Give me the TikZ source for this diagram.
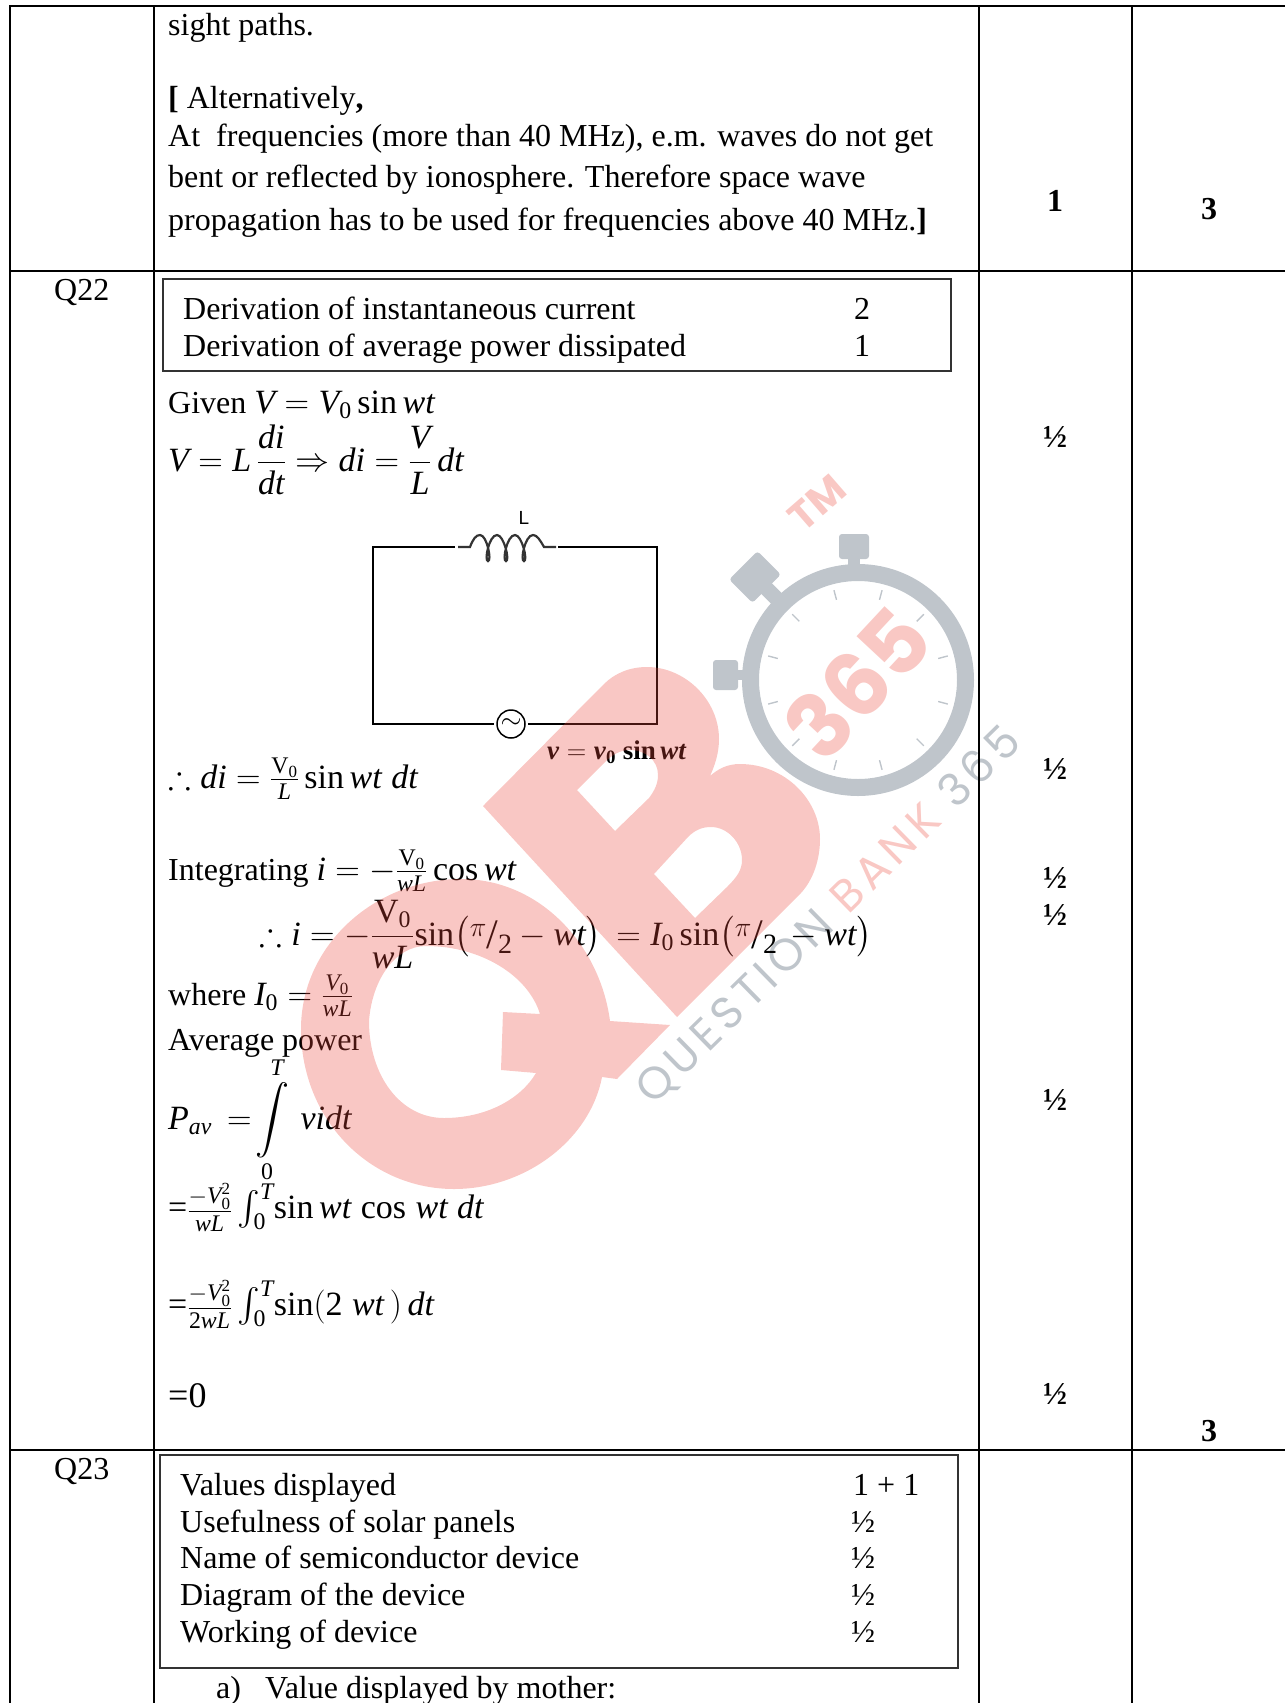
\documentclass[tikz,border=0pt]{standalone}
\usepackage{fix-cm}
\usepackage{amsmath,amssymb}
\usepackage{fontspec}
\setmainfont{Liberation Serif}
\newfontfamily\wmfont{Poppins}
\newfontfamily\wmtext[LetterSpace=12]{Poppins}
\newfontfamily\labelfont{Liberation Sans}
\usetikzlibrary{positioning}
\definecolor{wmgray}{HTML}{BFC5CB}
\definecolor{wmpink}{HTML}{F9C8C4}
\definecolor{wmred}{HTML}{EB473B}
\newcommand{\mv}[1]{\text{\itshape #1}}
\newcommand{\mr}[1]{\text{\upshape #1}}
\newcommand{\half}{½}
\newcommand{\mfs}{\fontsize{34}{38}\selectfont}
\newcommand{\pitwo}{\text{\fontsize{28}{28}\selectfont\raisebox{9pt}{$\pi$}\raisebox{-3pt}{\fontsize{42}{42}\selectfont/}\raisebox{-8pt}{2}}}

\begin{document}
\begin{tikzpicture}[
    x=1pt, y=-1pt,
    rule/.style={line width=2.2pt},
    markbox/.style={line width=1.8pt, draw=black!80},
    wire/.style={line width=1.5pt},
    txt/.style={anchor=base west, inner sep=0pt, font=\fontsize{32}{37}\selectfont},
    mth/.style={txt, font=\mfs},
    markval/.style={anchor=base, inner sep=0pt, font=\fontsize{32}{37}\selectfont\bfseries},
    wmfill/.style={fill=wmred, fill opacity=.3, even odd rule},
    dial/.style={wmgray}
]
    \useasboundingbox (0,0) rectangle (1285,1703);

    % watermark below the text
    \draw[dial, line width=17pt] (858,680) circle (107.5);
    \foreach \a in {15,45,...,345}
        \draw[dial, line width=1.4pt] (858,680) ++(\a:83) -- ++(\a:10);
    \fill[dial, rounded corners=3pt] (839,534) rectangle (869,559);
    \fill[dial] (848,559) rectangle (860,567);
    \fill[dial, rounded corners=3pt] (713,660) rectangle (738,690);
    \fill[dial] (738,670) rectangle (745,680);
    \draw[dial, line width=15pt] (755,577) -- (785,607);
    \node (knob) [dial, fill, rotate=-45, minimum width=33pt, minimum height=40pt, rounded corners=3pt, inner sep=0pt] at (755,577) {};
    \node (dialnum) [wmpink, rotate=47, inner sep=0pt, font=\wmfont\fontsize{88}{88}\selectfont\bfseries] at (857,683) {365};
    \node (tm) [wmpink, rotate=41, inner sep=0pt, font=\wmfont\fontsize{40}{40}\selectfont\bfseries] at (817,503) {TM};
    \node (wmline) [rotate=44.4, inner sep=0pt, font=\wmtext\fontsize{45}{45}\selectfont] at (829,916) {\textcolor{wmgray}{QUESTION} \textcolor{wmpink}{BANK} \textcolor{wmgray}{365}};

    % table
    \draw[rule] (1285,6) -- (10,6) -- (10,1703);
    \draw[rule] (154,6) -- (154,1703);
    \draw[rule] (979,6) -- (979,1703);
    \draw[rule] (1132,6) -- (1132,1703);
    \draw[rule] (10,271) -- (1285,271);
    \draw[rule] (10,1450) -- (1285,1450);

    % first row
    \node (sight) [txt] at (168,35) {sight paths.};
    \node (alt) [txt] at (168,108) {\textbf{[} Alternatively\textbf{,}};
    \node (atfreq) [txt] at (168,146) {At\ \ frequencies (more than 40 MHz), e.m. waves do not get};
    \node (bent) [txt] at (168,187.5) {bent or reflected by ionosphere. Therefore space wave};
    \node (prop) [txt] at (168,230) {propagation has to be used for frequencies above 40 MHz.\textbf{]}};
    \node (markone) [markval] at (1055,211) {1};
    \node (totone) [markval] at (1209,219) {3};

    % Q22
    \node (qtwo) [txt] at (54,300) {Q22};
    \draw[markbox] (163,279) rectangle (951,371);
    \node (deri) [txt] at (183,319) {Derivation of instantaneous current};
    \node (derp) [txt, below=37pt of deri.base west, anchor=base west] {Derivation of average power dissipated};
    \node (derinum) [markval, font=\fontsize{32}{37}\selectfont] at (862,319) {2};
    \node (derpnum) [markval, font=\fontsize{32}{37}\selectfont] at (862,356) {1};

    \node (given) [txt] at (168,413) {Given {\mfs $\mv{V}=\mv{V}_{\mr{0}}\,\mr{sin}\,\mv{wt}$}};
    \node (vldi) [mth] at (168,471) {$\mv{V}=\mv{L}\,\dfrac{\mv{di}}{\mv{dt}}\Rightarrow\mv{di}=\dfrac{\mv{V}}{\mv{L}}\,\mv{dt}$};

    % circuit
    \coordinate (topleft) at (373,547);
    \coordinate (topright) at (657,547);
    \coordinate (botleft) at (373,724);
    \coordinate (botright) at (657,724);
    \node (coil) [minimum width=103pt, minimum height=2pt, inner sep=0pt] at (506.5,547) {};
    \node (coillabel) [inner sep=0pt, font=\labelfont\fontsize{19}{19}\selectfont] at (524,518) {L};
    \node (source) [draw, circle, line width=1.5pt, minimum size=28pt, inner sep=0pt, outer sep=3pt, font=\fontsize{27}{27}\selectfont] at (511,724) {$\sim$};
    \draw[wire] (coil.west) -- (topleft) -- (botleft) -- (source.west);
    \draw[wire] (coil.east) -- (topright) -- (botright) -- (source.east);
    \draw[line width=2.2pt, black!80] (458,547) -- (470,547) .. controls (473,539) and (476,535) .. (480,535)
        .. controls (487,535) and (492,561) .. (488,561) .. controls (484,561) and (489,535) .. (497,535)
        .. controls (504,535) and (510,561) .. (506,561) .. controls (502,561) and (507,535) .. (515,535)
        .. controls (522,535) and (528,561) .. (524,561) .. controls (520,561) and (525,535) .. (533,535)
        .. controls (537,535) and (540,540) .. (544,547) -- (556,547);
    \node (vsource) [txt, font=\fontsize{27}{28}\selectfont\bfseries] at (547,759) {\textit{v}\;$=$\;\textit{v}$_{\mathbf{0}}$ sin\,\textit{wt}};

    \node (didt) [mth] at (168,788) {$\therefore\mv{di}=\frac{\mr{V}_{\mr{0}}}{\mv{L}}\,\mr{sin}\,\mv{wt}\;\mv{dt}$};
    \node (integ) [txt] at (168,880) {Integrating {\mfs $\mv{i}=-\frac{\mr{V}_{\mr{0}}}{\mv{wL}}\,\mr{cos}\,\mv{wt}$}};
    \node (isol) [mth] at (259,945) {$\therefore\mv{i}=-\dfrac{\mr{V}_{\mr{0}}}{\mv{wL}}\mr{sin}\bigl(\pitwo-\mv{wt}\bigr)\,=\mv{I}_{\mr{0}}\,\mr{sin}\bigl(\pitwo\,-\mv{wt}\bigr)$};
    \node (where) [txt] at (168,1005) {where {\mfs $\mv{I}_{\mr{0}}=\frac{\mv{V}_{\mr{0}}}{\mv{wL}}$}};
    \node (avg) [txt] at (168,1050) {Average power};
    \node (pav) [mth] at (168,1129) {$\mv{P}_{\mv{av}}\,=\!\displaystyle\mathop{\int}\limits_{\mkern-8mu\mr{0}}^{\mkern7mu\mv{T}}\,\mv{vidt}$};
    \node (stepone) [mth] at (168,1218) {=\raisebox{-2pt}{$\frac{-\mv{V}_{\mr{0}}^{\mr{2}}}{\mv{wL}}$}\,$\int_{\mr{0}}^{\mv{T}}\!\mr{sin}\,\mv{wt}\;\mr{cos}\;\mv{wt}\;\mv{dt}$};
    \node (steptwo) [mth] at (168,1315) {=\raisebox{-2pt}{$\frac{-\mv{V}_{\mr{0}}^{\mr{2}}}{\mr{2}\mv{wL}}$}\,$\int_{\mr{0}}^{\mv{T}}\!\mr{sin}(\mr{2}\;\mv{wt}\,)\,\mv{dt}$};
    \node (zero) [txt, font=\fontsize{36}{40}\selectfont] at (168,1407) {=0};

    \foreach \n/\y in {a/447.5,b/779,c/888.5,d/925,e/1110,f/1404}
        \node (half\n) [markval] at (1055,\y) {\half};
    \node (tottwo) [markval] at (1209,1441) {3};

    % Q23
    \node (qthree) [txt] at (54,1479) {Q23};
    \draw[markbox] (160,1455) rectangle (958,1668);
    \node (values) [txt] at (180,1495) {Values displayed};
    \node (useful) [txt, below=37pt of values.base west, anchor=base west] {Usefulness of solar panels};
    \node (nameof) [txt, below=36.5pt of useful.base west, anchor=base west] {Name of semiconductor device};
    \node (diagram) [txt, below=36.5pt of nameof.base west, anchor=base west] {Diagram of the device};
    \node (working) [txt, below=37pt of diagram.base west, anchor=base west] {Working of device};
    \node (valnum) [txt] at (853,1495) {1 + 1};
    \node (usenum) [txt] at (851,1532) {\half};
    \node (namenum) [txt] at (851,1568.5) {\half};
    \node (diagnum) [txt] at (851,1605) {\half};
    \node (worknum) [txt] at (851,1642) {\half};
    \node (mothera) [txt] at (216,1698) {a)};
    \node (mother) [txt] at (265,1698) {Value displayed by mother:};

    % watermark over the text
    \fill[wmfill] (610,1021) -- (670,1025) -- (617,1079) -- (602,1077)
        .. controls (590,1140) and (525,1189) .. (454,1189)
        .. controls (370,1189) and (301,1120) .. (301,1029)
        .. controls (301,945) and (375,879) .. (461,879)
        .. controls (540,879) and (600,945) .. (610,1021) -- cycle
        (369,1021) .. controls (372,980) and (395,946) .. (426,946)
        .. controls (480,946) and (528,975) .. (540,1014) -- (503,1012) -- (501,1070) -- (536,1073)
        .. controls (520,1100) and (485,1118) .. (444,1118)
        .. controls (400,1118) and (369,1075) .. (369,1021) -- cycle;
    \fill[wmfill] (483,806) -- (604,684) .. controls (615,673) and (630,667) .. (647,667)
        .. controls (685,667) and (719,700) .. (719,739)
        .. controls (719,753) and (715,765) .. (710,776)
        .. controls (718,769) and (727,764) .. (740,764)
        .. controls (785,764) and (820,800) .. (820,839)
        .. controls (820,860) and (813,880) .. (801,893) -- (677,1017) -- cycle
        (577,790) -- (615,831) -- (649,798) .. controls (655,790) and (658,783) .. (658,775)
        .. controls (658,760) and (645,750) .. (630,750)
        .. controls (620,750) and (612,755) .. (605,762) -- cycle
        (654,874) -- (695,918) -- (727,887) .. controls (737,877) and (742,870) .. (742,860)
        .. controls (742,843) and (728,827) .. (711,827)
        .. controls (702,827) and (695,830) .. (688,837) -- cycle;
\end{tikzpicture}
\end{document}
